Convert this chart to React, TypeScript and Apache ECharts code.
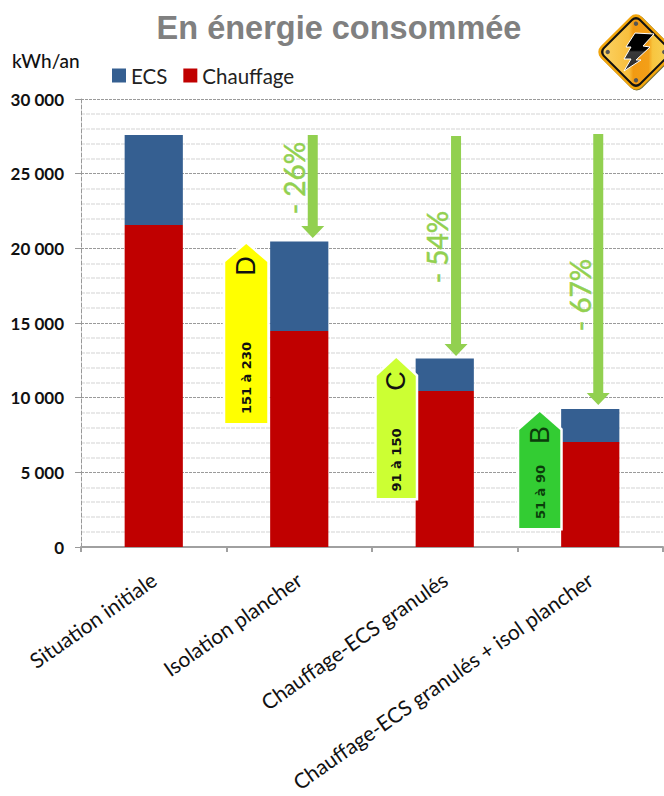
import React, { useEffect, useRef } from "react";
import * as echarts from "echarts";

const categories = [
  "Situation initiale",
  "Isolation plancher",
  "Chauffage-ECS granulés",
  "Chauffage-ECS granulés + isol plancher",
];
const chauffage = [21560, 14460, 10450, 7030];
const ecs = [6030, 6000, 2170, 2210];

// Reduction arrows: category index, start value, tip value
const arrowCategories = [1, 2, 3];
const arrowStart = [27590, 27520, 27660];
const arrowTip = [20690, 12790, 9510];
const arrowLabels = ["- 26%", "- 54%", "- 67%"];

// Energy class tags: category index, tip value, base value
const tagCategories = [1, 2, 3];
const tagTop = [20290, 12650, 9040];
const tagBottom = [8300, 3280, 1270];
const tagLetters = ["D", "C", "B"];
const tagRanges = ["151 à 230", "91 à 150", "51 à 90"];
const tagColors = ["#FFFF00", "#CCFF33", "#33CC33"];

const SANS = "Lato, 'Open Sans', sans-serif";
const GREEN = "#92D050";

function fmt(v: number) {
  return v === 0 ? "0" : `${Math.floor(v / 1000)} ${String(v % 1000).padStart(3, "0")}`;
}

function renderArrow(params: any, api: any) {
  const i = params.dataIndex;
  const start = api.coord([api.value(0), api.value(1)]);
  const tip = api.coord([api.value(0), api.value(2)]);
  const cx = start[0] + [13.5, 11.3, 8][i];
  const neck = tip[1] - 12;
  return {
    type: "group",
    children: [
      {
        type: "polygon",
        shape: {
          points: [
            [cx - 5, start[1]],
            [cx + 5, start[1]],
            [cx + 5, neck],
            [cx + 11.5, neck],
            [cx, tip[1]],
            [cx - 11.5, neck],
            [cx - 5, neck],
          ],
        },
        style: { fill: GREEN },
      },
      {
        type: "text",
        x: cx + [-18.5, -19, -18][i],
        y: start[1] + [43, 111, 161][i],
        rotation: Math.PI / 2,
        style: {
          text: arrowLabels[i],
          fontFamily: SANS,
          fontSize: 28,
          fill: GREEN,
          stroke: GREEN,
          lineWidth: 0.5,
          align: "center",
          verticalAlign: "middle",
        },
      },
    ],
  };
}

function renderTag(params: any, api: any) {
  const i = params.dataIndex;
  const top = api.coord([api.value(0), api.value(1)]);
  const bottom = api.coord([api.value(0), api.value(2)]);
  const left = top[0] + [-74, -68, -71][i];
  const w = [42, 39, 41][i];
  const mid = left + w / 2;
  const shoulder = top[1] + 18;
  const points = [
    [mid, top[1]],
    [left + w, shoulder],
    [left + w, bottom[1]],
    [left, bottom[1]],
    [left, shoulder],
  ];
  const ink = i === 2 ? "#0b3d0b" : "#111111";
  return {
    type: "group",
    children: [
      {
        type: "polygon",
        shape: { points },
        style: { fill: "#ffffff", stroke: "#ffffff", lineWidth: 5, lineJoin: "miter" },
      },
      {
        type: "polygon",
        shape: { points },
        style: { fill: tagColors[i] },
      },
      {
        type: "text",
        x: mid,
        y: top[1] + [22, 23, 23][i],
        rotation: Math.PI / 2,
        style: {
          text: tagLetters[i],
          fontFamily: "'Liberation Sans', sans-serif",
          fontSize: 27,
          fill: ink,
          align: "center",
          verticalAlign: "middle",
        },
      },
      {
        type: "text",
        x: mid + 0.5,
        y: bottom[1] + [-45, -38, -36][i],
        rotation: Math.PI / 2,
        style: {
          text: tagRanges[i],
          fontFamily: "'DejaVu Sans', sans-serif",
          fontSize: 13,
          fontWeight: "bold",
          fill: ink,
          align: "center",
          verticalAlign: "middle",
        },
      },
    ],
  };
}

// Warning-sign badge in the top right corner
function badge() {
  const body = new echarts.graphic.LinearGradient(0, 0, 1, 1, [
    { offset: 0, color: "#FBD365" },
    { offset: 0.4, color: "#F8BE3C" },
    { offset: 0.46, color: "#F29A12" },
    { offset: 0.68, color: "#F39F18" },
    { offset: 0.74, color: "#F8C53F" },
    { offset: 1, color: "#F6D35A" },
  ]);
  const screw = (x: number, y: number) => ({
    type: "circle",
    shape: { cx: x, cy: y, r: 2.2 },
    style: { fill: "#555555" },
  });
  return {
    type: "group",
    children: [
      {
        type: "group",
        x: 636,
        y: 52,
        rotation: Math.PI / 4,
        children: [
          { type: "rect", shape: { x: -29, y: -28, width: 58, height: 58, r: 8 }, style: { fill: "#6B6B3A" } },
          { type: "rect", shape: { x: -29, y: -29, width: 58, height: 58, r: 8 }, style: { fill: "#F2A50C" } },
          { type: "rect", shape: { x: -26.5, y: -26.5, width: 53, height: 53, r: 6 }, style: { fill: "#111111" } },
          { type: "rect", shape: { x: -24.5, y: -24.5, width: 49, height: 49, r: 5 }, style: { fill: body } },
          screw(-20, -20),
          screw(20, -20),
          screw(-20, 20),
          screw(20, 20),
        ],
      },
      {
        type: "polygon",
        shape: {
          points: [
            [635, 33],
            [654, 34],
            [643, 46],
            [650, 47],
            [636, 60],
            [641, 60],
            [624, 71],
            [631, 59],
            [624, 59],
            [631, 47],
            [626, 47],
          ],
        },
        style: {
          fill: new echarts.graphic.LinearGradient(0, 0, 0, 1, [
            { offset: 0, color: "#000000" },
            { offset: 0.45, color: "#000000" },
            { offset: 0.5, color: "#3a3a3a" },
            { offset: 1, color: "#2a2a2a" },
          ]),
          stroke: "#ffffff",
          lineWidth: 1,
        },
      },
    ],
  };
}

export default function App() {
  const ref = useRef<HTMLDivElement>(null);

  useEffect(() => {
    const chart = echarts.init(ref.current!, null, { renderer: "svg" });
    chart.setOption({
      animation: false,
      backgroundColor: "#ffffff",
      title: {
        text: "En énergie consommée",
        left: 334,
        top: 6,
        textAlign: "center",
        textStyle: {
          fontFamily: "'Liberation Sans', sans-serif",
          fontSize: 32.5,
          fontWeight: "bold",
          color: "#808080",
        },
      },
      legend: {
        data: ["ECS", "Chauffage"],
        left: 107,
        top: 60,
        itemWidth: 14,
        itemHeight: 14,
        itemGap: 16,
        icon: "rect",
        itemStyle: { borderWidth: 0 },
        textStyle: { fontFamily: SANS, fontSize: 20.5, color: "#222222" },
      },
      grid: { left: 81, right: 1, top: 99, bottom: 249, outerBoundsMode: "none" },
      xAxis: {
        type: "category",
        data: categories,
        axisLine: { lineStyle: { color: "#a0a0a0", width: 2 } },
        axisTick: { show: true, length: 5, lineStyle: { color: "#a0a0a0", width: 2 } },
        axisLabel: {
          interval: 0,
          rotate: 35,
          margin: 30,
          fontFamily: SANS,
          fontSize: 21,
          color: "#111111",
        },
      },
      yAxis: {
        type: "value",
        min: 0,
        max: 30000,
        interval: 5000,
        axisLine: { show: true, lineStyle: { color: "#999999", type: "dashed" } },
        axisTick: { show: true, length: 6, lineStyle: { color: "#999999" } },
        axisLabel: {
          margin: 17,
          fontFamily: SANS,
          fontWeight: "bold",
          fontSize: 17,
          color: "#111111",
          formatter: fmt,
        },
        splitLine: { show: true, lineStyle: { color: "#9a9a9a", type: [3, 1], width: 1 } },
        minorTick: { show: false, splitNumber: 5 },
        minorSplitLine: { show: true, lineStyle: { color: "#e2e2e2", type: [4, 1], width: 1.5 } },
      },
      graphic: [
        {
          type: "text",
          x: 12,
          y: 51,
          style: { text: "kWh/an", fontFamily: SANS, fontSize: 19, fontWeight: 500, fill: "#111111" },
        },
        badge(),
      ],
      series: [
        {
          name: "Chauffage",
          type: "bar",
          stack: "total",
          barWidth: "40%",
          data: chauffage,
          itemStyle: { color: "#C00000" },
        },
        {
          name: "ECS",
          type: "bar",
          stack: "total",
          barWidth: "40%",
          data: ecs,
          itemStyle: { color: "#355F91" },
        },
        {
          type: "custom",
          z: 5,
          silent: true,
          clip: false,
          renderItem: renderTag,
          data: tagCategories.map((c, i) => [c, tagTop[i], tagBottom[i]]),
        },
        {
          type: "custom",
          z: 6,
          silent: true,
          clip: false,
          renderItem: renderArrow,
          data: arrowCategories.map((c, i) => [c, arrowStart[i], arrowTip[i]]),
        },
      ],
    });
    return () => chart.dispose();
  }, []);

  return <div ref={ref} style={{ position: "absolute", left: 0, top: 0, width: 664, height: 796 }} />;
}
